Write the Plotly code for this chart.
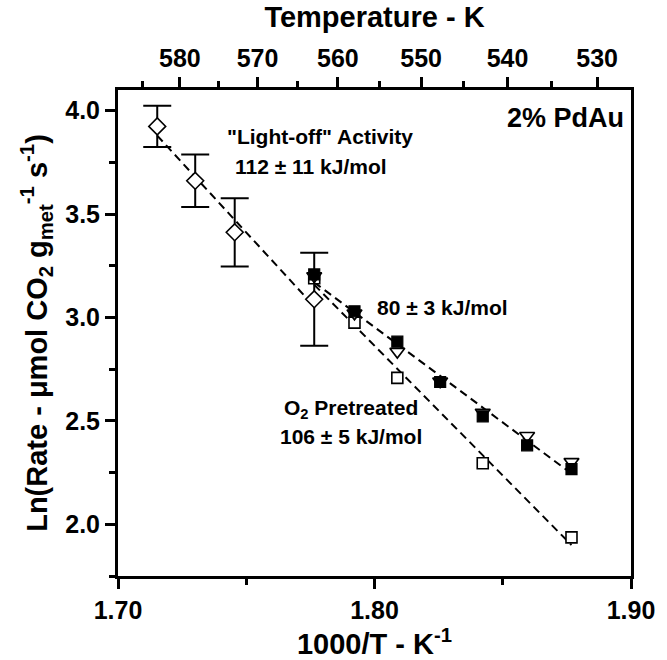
import numpy as np
import plotly.graph_objects as go

# ---- data ----
# "Light-off" activity (open diamonds) with error bars
lo_x = [1.7153, 1.7301, 1.7455, 1.7765]
lo_y = [3.924, 3.661, 3.412, 3.088]
lo_err = [0.100, 0.127, 0.165, 0.225]

# steady-state rates, filled squares
fs_x = [1.7765, 1.7922, 1.8089, 1.8256, 1.8422, 1.8595, 1.8768]
fs_y = [3.208, 3.030, 2.883, 2.688, 2.522, 2.382, 2.267]

# steady-state rates, open down-triangles
tr_x = [1.7765, 1.7922, 1.8089, 1.8256, 1.8422, 1.8595, 1.8768]
tr_y = [3.200, 3.020, 2.835, 2.692, 2.540, 2.428, 2.302]

# O2 pretreated, open squares
os_x = [1.7765, 1.7922, 1.8089, 1.8422, 1.8768]
os_y = [3.190, 2.975, 2.708, 2.295, 1.937]

# axes ticks
x_ticks = [1.70, 1.80, 1.90]
x_minor = [1.75, 1.85]
y_ticks = [2.0, 2.5, 3.0, 3.5, 4.0]
y_minor = [1.75, 2.25, 2.75, 3.25, 3.75]
temp_ticks = [580, 570, 560, 550, 540, 530]
temp_minor = [585, 575, 565, 555, 545, 535]

FONT = "Liberation Sans"


def fit_line(xs, ys):
    k, b = np.polyfit(xs, ys, 1)
    xx = np.array([min(xs), max(xs)])
    return xx, k * xx + b


fig = go.Figure()
dash_line = dict(color="black", width=2, dash="8px,5px")

for xs, ys in [(lo_x, lo_y), (fs_x + tr_x, fs_y + tr_y), (os_x, os_y)]:
    lx, ly = fit_line(xs, ys)
    fig.add_trace(go.Scatter(x=lx, y=ly, mode="lines", line=dash_line,
                             showlegend=False, hoverinfo="skip"))

fig.add_trace(go.Scatter(
    x=os_x, y=os_y, mode="markers", showlegend=False,
    marker=dict(symbol="square", size=11, color="white",
                line=dict(color="black", width=1.6))))
fig.add_trace(go.Scatter(
    x=tr_x, y=tr_y, mode="markers", showlegend=False,
    marker=dict(symbol="triangle-down", size=13, color="white",
                line=dict(color="black", width=1.6))))
fig.add_trace(go.Scatter(
    x=fs_x, y=fs_y, mode="markers", showlegend=False,
    marker=dict(symbol="square", size=11, color="black",
                line=dict(color="black", width=1.2))))
fig.add_trace(go.Scatter(
    x=lo_x, y=lo_y, mode="markers", showlegend=False,
    error_y=dict(type="data", array=lo_err, visible=True,
                 color="black", thickness=2, width=14),
    marker=dict(symbol="diamond", size=13, color="white",
                line=dict(color="black", width=1.6))))

# invisible trace to activate top axis
fig.add_trace(go.Scatter(x=[lo_x[0]], y=[lo_y[0]], xaxis="x2", mode="markers",
                         marker=dict(opacity=0), showlegend=False,
                         hoverinfo="skip"))

tickfont = dict(family=FONT, size=25, color="black", weight="bold")
titlefont = dict(family=FONT, size=29, color="black", weight="bold")
common = dict(showline=True, linecolor="black", linewidth=3, ticks="outside",
              ticklen=10, tickwidth=3, tickcolor="black", showgrid=False,
              zeroline=False, tickfont=tickfont)

fig.update_layout(
    width=667, height=660,
    margin=dict(l=118, r=29, t=90, b=77),
    plot_bgcolor="white", paper_bgcolor="white",
    xaxis=dict(range=[1.70, 1.90], tickmode="array", tickvals=x_ticks,
               ticktext=[f"{v:.2f}" for v in x_ticks],
               minor=dict(tickmode="array", tickvals=x_minor, ticks="outside",
                          ticklen=6, tickwidth=3, tickcolor="black"),
               title=dict(text="1000/T - K<sup>-1</sup>", font=titlefont,
                          standoff=4),
               mirror=False, **common),
    xaxis2=dict(range=[1.70, 1.90], overlaying="x", side="top",
                tickmode="array", tickvals=[1000.0 / t for t in temp_ticks],
                ticktext=[str(t) for t in temp_ticks],
                minor=dict(tickmode="array",
                           tickvals=[1000.0 / t for t in temp_minor],
                           ticks="outside", ticklen=6, tickwidth=3,
                           tickcolor="black"),
                title=dict(text="Temperature - K", font=titlefont, standoff=8),
                **common),
    yaxis=dict(range=[1.75, 4.10], tickmode="array", tickvals=y_ticks,
               ticktext=[f"{v:.1f}" for v in y_ticks],
               minor=dict(tickmode="array", tickvals=y_minor, ticks="outside",
                          ticklen=6, tickwidth=3, tickcolor="black"),
               title=dict(text="Ln(Rate - μmol CO<sub>2</sub> g<sub>met</sub><sup>-1</sup> s<sup>-1</sup>)",
                          font=titlefont, standoff=10),
               mirror=True, **common),
)

afont = dict(family=FONT, size=21, color="black", weight="bold")
annots = [
    ("\"Light-off\" Activity", 1.7787, 3.875, "center", afont),
    ("112 ± 11 kJ/mol", 1.7752, 3.731, "center", afont),
    ("80 ± 3 kJ/mol", 1.8267, 3.049, "center", afont),
    ("O<sub>2</sub> Pretreated", 1.7910, 2.558, "center", afont),
    ("106 ± 5 kJ/mol", 1.7910, 2.4245, "center", afont),
    ("2% PdAu", 1.8979, 3.965, "right",
     dict(family=FONT, size=27, color="black", weight="bold")),
]
for text, x, y, xa, f in annots:
    fig.add_annotation(text=text, x=x, y=y, xref="x", yref="y",
                       xanchor=xa, yanchor="middle", showarrow=False, font=f)

fig.write_html("out.html")
